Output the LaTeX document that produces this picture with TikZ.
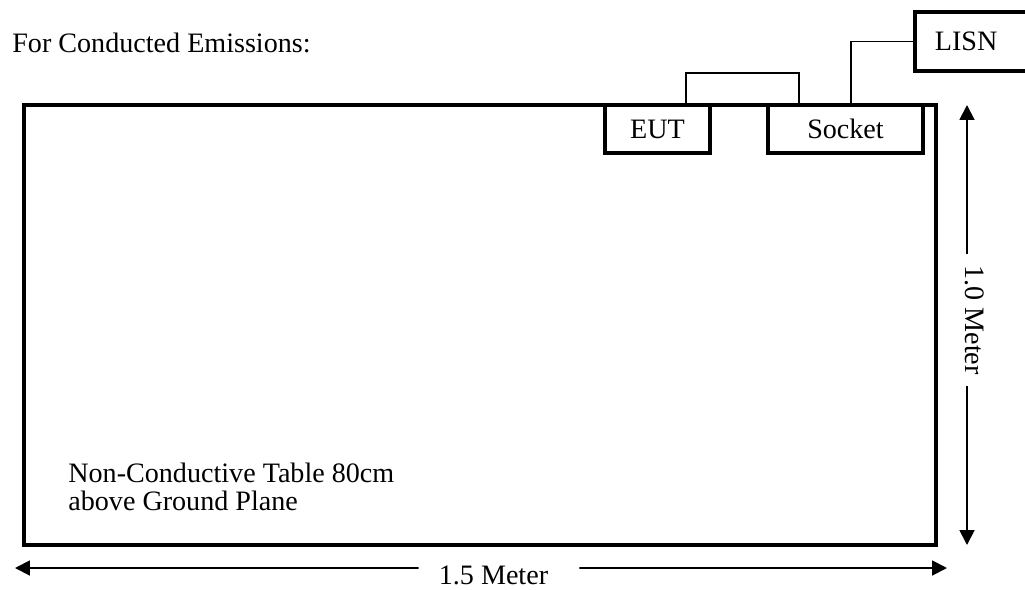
\documentclass[tikz,border=0pt]{standalone}
\usepackage{fontspec}
\setmainfont{Liberation Serif}
\usetikzlibrary{arrows.meta,positioning}

\begin{document}
\begin{tikzpicture}[
 x=0.02cm, y=-0.02cm,
 font=\fontsize{16}{15.5}\selectfont,
 tablebox/.style={rectangle, draw, line width=2.2pt, minimum width=18.24cm, minimum height=8.8cm, inner sep=0pt},
 devbox/.style={rectangle, draw, line width=2.2pt, minimum height=0.96cm, inner sep=0pt},
 wire/.style={line width=0.8pt},
 dimarr/.style={line width=1.1pt, -{Triangle[length=8.5pt,width=8.5pt]}},
]
\useasboundingbox (0,0) rectangle (1025,589);
\clip (0,0) rectangle (1025,589);
\node[anchor=base west, inner sep=0pt] (title) at (12,52) {For Conducted Emissions:};
\node[tablebox] (table) at (480,325) {};
\node[devbox, minimum width=2.1cm] (eut) at (657.5,129) {EUT};
\node[devbox, minimum width=3.1cm] (socket) at (845.5,129) {Socket};
\node[draw, line width=2.2pt, anchor=west, minimum height=1.18cm, text width=2.2cm, inner xsep=0.4cm, align=left] (lisn) at (913,41.5) {LISN};
\node[anchor=base west, inner sep=0pt, align=left] (note) at (68,510) {Non-Conductive Table 80cm\\above Ground Plane};
% wiring
\coordinate (plug) at (799,105);
\draw[wire] ([xshift=0.57cm]eut.north) -- ++(0,-30) -| (plug);
\draw[wire] ([xshift=0.11cm]socket.north) |- (lisn.west);
% dimensions
\coordinate (vtop) at (967,105);
\coordinate (vbot) at (967,545);
\node[rotate=-90, inner xsep=6.5pt, inner ysep=0pt] (vlab) at (975,320) {1.0 Meter};
\draw[dimarr] (vlab.west -| vtop) -- (vtop);
\draw[dimarr] (vlab.east -| vbot) -- (vbot);
\coordinate (hleft) at (15,568);
\coordinate (hright) at (947,568);
\node[inner sep=0pt] (hlab) at (493.5,575) {1.5 Meter};
\draw[dimarr] ([xshift=-0.4cm, yshift=0.14cm]hlab.west) -- (hleft);
\draw[dimarr] ([xshift=0.62cm, yshift=0.14cm]hlab.east) -- (hright);
\end{tikzpicture}
\end{document}
